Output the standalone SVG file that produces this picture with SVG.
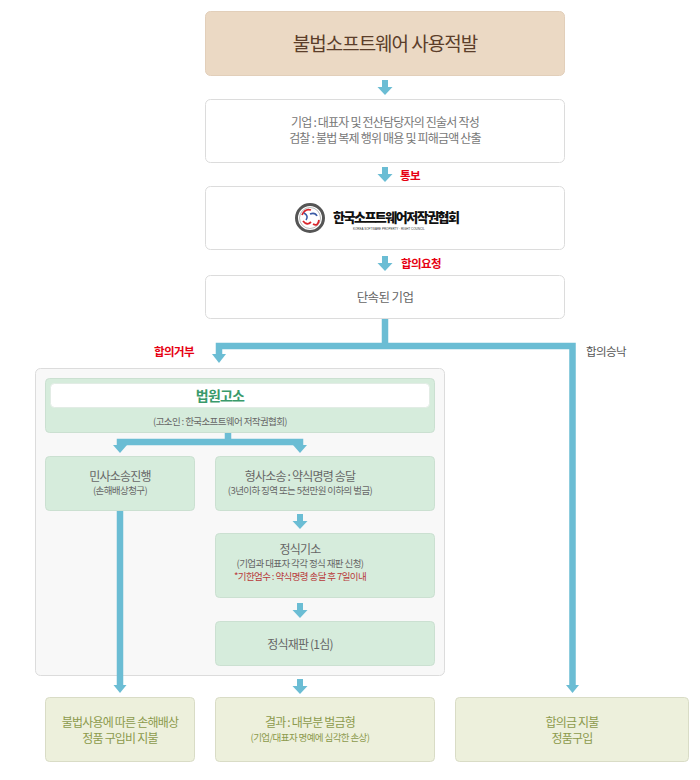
<svg xmlns="http://www.w3.org/2000/svg" xmlns:xlink="http://www.w3.org/1999/xlink" width="700" height="780" viewBox="0 0 700 780">
<style>
text{font-family:"Noto Sans CJK KR","Noto Sans",sans-serif;text-anchor:middle}
.wbox{fill:#ffffff;stroke:#dcdcdc;stroke-width:1}
.gbox{fill:#d6ecdc;stroke:#cbe0d1;stroke-width:1}
.obox{fill:#edf0dc;stroke:#d9dcc6;stroke-width:1}
.t{font-size:12px;letter-spacing:-0.8px;fill:#777}
.s{font-size:9.5px;letter-spacing:-0.6px;fill:#777}
.lbl{font-size:11.5px;letter-spacing:-0.6px;font-weight:bold;fill:#e60012}
.ol{font-size:12px;letter-spacing:-0.8px;fill:#8c9a4c}
.ols{font-size:9.5px;letter-spacing:-0.6px;fill:#8c9a4c}
.ln{fill:none;stroke:#6bbdd4;stroke-width:6.5;stroke-linejoin:miter}
.hd{fill:#6bbdd4}
</style>
<defs>
<path id="arr" d="M-3,0 H3 V7 H7.5 L0,15 L-7.5,7 H-3 Z" fill="#6bbdd4"/>
</defs>

<g id="n-detect">
<rect x="205.5" y="11.5" width="359" height="64" rx="5" fill="#ebd9c4" stroke="#e2cfba"/>
<text x="385" y="51" style="font-size:19px;letter-spacing:-1px;fill:#5b3e2a">불법소프트웨어 사용적발</text>
</g>

<g id="n-statement">
<rect class="wbox" x="205.5" y="99.5" width="359" height="63" rx="5"/>
<text class="t" x="385" y="127">기업 : 대표자 및 전산담당자의 진술서 작성</text>
<text class="t" x="385" y="143">검찰 : 불법 복제 행위 매용 및 피해금액 산출</text>
</g>

<g id="n-council">
<rect class="wbox" x="205.5" y="186.5" width="359" height="63" rx="5"/>
<circle cx="310" cy="218" r="13.5" fill="#fff" stroke="#555" stroke-width="3"/>
<circle cx="310" cy="218" r="10.5" fill="none" stroke="#aaa" stroke-width="0.8"/>
<path d="M302,215 Q305,208 311,210 M303,221 Q307,226 311,222 M313,224 Q318,227 319,220" fill="none" stroke="#d9252b" stroke-width="1.8"/>
<path d="M304,213 Q309,216 306,220 M310,214 Q315,212 317,216" fill="none" stroke="#3b5ba5" stroke-width="1.6"/>
<text x="333" y="222" style="text-anchor:start;font-size:13px;font-weight:900;letter-spacing:-1.5px;fill:#111">한국소프트웨어저작권협회</text>
<text x="353" y="230" style="text-anchor:start;font-family:'Liberation Sans',sans-serif;font-size:3px;fill:#333">KOREA SOFTWARE PROPERTY · RIGHT COUNCIL</text>
</g>

<g id="n-company">
<rect class="wbox" x="205.5" y="275.5" width="359" height="43" rx="5"/>
<text x="385" y="302" style="font-size:12.5px;letter-spacing:-0.6px;fill:#666">단속된 기업</text>
</g>

<g id="n-container">
<rect x="35.5" y="368.5" width="409" height="307" rx="5" fill="#f8f8f8" stroke="#dcdcdc"/>
</g>

<g id="n-court">
<rect class="gbox" x="45.5" y="378.5" width="389" height="54" rx="4"/>
<rect x="50.5" y="383.5" width="379" height="24" rx="4" fill="#fff" stroke="#e2ece5"/>
<text x="220" y="401" style="font-size:14px;font-weight:bold;letter-spacing:-0.8px;fill:#3a9a6b">법원고소</text>
<text class="s" x="220" y="425" style="fill:#666">(고소인 : 한국소프트웨어 저작권협회)</text>
</g>

<g id="n-civil">
<rect class="gbox" x="45.5" y="456.5" width="149" height="54" rx="4"/>
<text class="t" x="120" y="481" style="fill:#666">민사소송진행</text>
<text class="s" x="120" y="494" style="fill:#666">(손해배상청구)</text>
</g>

<g id="n-criminal">
<rect class="gbox" x="215.5" y="456.5" width="219" height="54" rx="4"/>
<text class="t" x="300" y="481" style="fill:#666">형사소송 : 약식명령 송달</text>
<text class="s" x="300" y="494" style="fill:#666">(3년이하 징역 또는 5천만원 이하의 벌금)</text>
</g>

<g id="n-indict">
<rect class="gbox" x="215.5" y="533.5" width="219" height="64" rx="4"/>
<text class="t" x="300" y="554" style="fill:#666">정식기소</text>
<text class="s" x="300" y="567" style="fill:#666">(기업과 대표자 각각 정식 재판 신청)</text>
<text class="s" x="300" y="580" style="fill:#b8393a">*기한엄수 : 약식명령 송달 후 7일이내</text>
</g>

<g id="n-trial">
<rect class="gbox" x="215.5" y="621.5" width="219" height="44" rx="4"/>
<text class="t" x="300" y="649" style="fill:#666">정식재판 (1심)</text>
</g>

<g id="n-damages">
<rect class="obox" x="45.5" y="697.5" width="149" height="64" rx="4"/>
<text class="ol" x="120" y="727">불법사용에 따른 손해배상</text>
<text class="ol" x="120" y="743">정품 구입비 지불</text>
</g>

<g id="n-result">
<rect class="obox" x="215.5" y="697.5" width="219" height="64" rx="4"/>
<text class="ol" x="310" y="727">결과 : 대부분 벌금형</text>
<text class="ols" x="310" y="741">(기업/대표자 명예에 심각한 손상)</text>
</g>

<g id="n-settle">
<rect class="obox" x="455.5" y="697.5" width="233" height="64" rx="4"/>
<text class="ol" x="572" y="727">합의금 지불</text>
<text class="ol" x="572" y="743">정품구입</text>
</g>

<g id="connectors">
<use xlink:href="#arr" x="385" y="80"/>
<use xlink:href="#arr" x="385" y="167"/>
<text class="lbl" x="410" y="180">통보</text>
<use xlink:href="#arr" x="385" y="256"/>
<text class="lbl" x="421" y="268">합의요청</text>
<path class="ln" d="M385,319 V346"/>
<path class="ln" d="M219,355 V346 H572.5 V686"/>
<polygon class="hd" points="212,354 226,354 219,363"/>
<polygon class="hd" points="566,685 579,685 572.5,693"/>
<text class="lbl" x="174" y="356">합의거부</text>
<text class="lbl" x="606" y="356" style="fill:#555;font-weight:normal">합의승낙</text>
<path class="ln" d="M228,433 V442"/>
<path class="ln" d="M120,446 V442 H300 V446"/>
<polygon class="hd" points="113,445 127,445 120,453"/>
<polygon class="hd" points="293,445 307,445 300,453"/>
<use xlink:href="#arr" x="300" y="514"/>
<use xlink:href="#arr" x="300" y="603"/>
<path class="ln" d="M120,511 V686"/>
<polygon class="hd" points="113.5,685 126.5,685 120,693"/>
<use xlink:href="#arr" x="300" y="679"/>
</g>
</svg>
